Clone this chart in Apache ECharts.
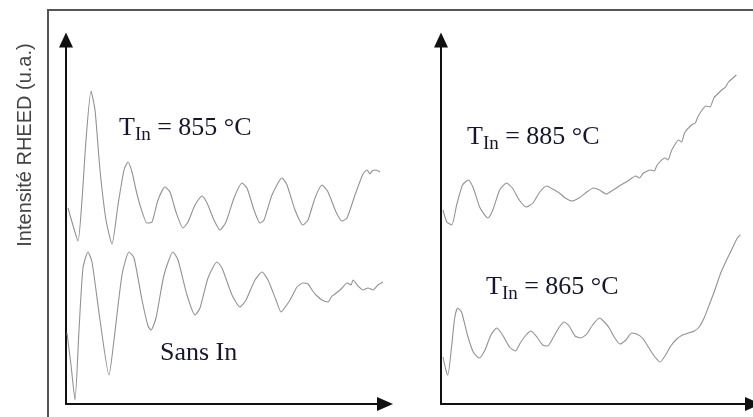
<!DOCTYPE html>
<html>
<head>
<meta charset="utf-8">
<script src="https://cdn.jsdelivr.net/npm/echarts@6/dist/echarts.min.js"></script>
<style>html,body{margin:0;padding:0;background:#fff;}#c{width:753px;height:417px;}</style>
</head>
<body>
<div id="c"></div>
<script>
// RHEED intensity traces, arbitrary units: [time (a.u.), intensity (a.u.)]
const yAxisTitle = 'Intensité RHEED (u.a.)';
const labels = {
  t855: '855 °C', t885: '885 °C', t865: '865 °C', sansIn: 'Sans In'
};
const xMax = 319;
const yMax = 364;

const trace855 = [[2,196],[6,182],[12,163],[16,204],[20,264],[25,313],[29,294],[34,234],[40,184],[46,160],[52,199],[58,234],[62,242],[66,232],[70,214],[74,199],[81,181],[86,182],[92,204],[99,217],[104,212],[110,192],[117,176],[122,182],[129,199],[136,208],[141,201],[148,184],[154,174],[160,182],[168,206],[176,221],[181,216],[188,194],[194,181],[198,184],[206,209],[216,226],[221,219],[229,194],[237,179],[242,184],[249,206],[256,219],[262,212],[270,192],[276,183],[281,186],[289,209],[297,230],[301,234],[304,230],[306,233],[310,234],[314,232]];
const traceSansIn = [[1,71],[5,39],[9,4],[13,74],[17,136],[22,152],[26,142],[34,84],[43,29],[48,64],[56,129],[63,152],[68,146],[76,104],[82,78],[85,74],[90,86],[98,129],[107,152],[112,144],[121,109],[129,89],[134,96],[142,126],[151,142],[156,136],[166,109],[174,97],[180,104],[189,124],[196,132],[202,124],[210,104],[215,92],[217,94],[224,104],[231,117],[237,121],[242,120],[246,114],[250,109],[256,104],[262,102],[266,108],[269,110],[274,114],[276,116],[281,121],[285,119],[287,124],[292,118],[297,114],[302,116],[307,114],[312,119],[317,122]];
const trace885 = [[2,194],[6,182],[11,179],[16,199],[22,219],[28,224],[33,216],[40,196],[48,186],[53,194],[60,214],[67,221],[73,216],[80,204],[87,197],[94,201],[101,212],[108,218],[114,215],[121,211],[127,206],[134,203],[141,206],[149,212],[156,216],[162,214],[169,210],[176,214],[184,219],[191,223],[199,228],[203,226],[207,231],[214,234],[218,233],[221,239],[229,246],[232,244],[236,254],[243,264],[246,262],[249,271],[256,279],[260,281],[263,288],[271,298],[275,297],[279,306],[287,314],[291,317],[294,322],[302,329]];
const trace865 = [[2,47],[5,34],[7,29],[11,59],[14,86],[17,96],[21,92],[27,69],[33,52],[39,46],[45,54],[51,69],[57,76],[63,69],[70,57],[76,53],[81,61],[87,69],[92,73],[98,67],[104,59],[109,58],[115,67],[121,77],[126,82],[131,78],[137,68],[143,66],[149,70],[155,79],[162,86],[167,82],[172,76],[177,67],[183,60],[189,64],[195,71],[200,70],[206,66],[212,57],[218,48],[224,42],[229,48],[235,58],[241,65],[247,69],[253,71],[259,73],[264,77],[269,86],[275,101],[280,114],[286,131],[292,144],[298,156],[303,166],[306,169]];

const chart = echarts.init(document.getElementById('c'), null, {renderer: 'canvas'});
const lineColor = '#929292';
const textColor = '#16162e';
const serif = '"Liberation Serif", "Times New Roman", serif';

function axisX(idx) {
  return {type: 'value', gridIndex: idx, min: 0, max: xMax,
    axisLine: {show: true, onZero: false, symbol: ['none', 'triangle'], symbolSize: [14, 16],
      lineStyle: {color: '#111', width: 2}},
    axisTick: {show: false}, axisLabel: {show: false}, splitLine: {show: false}};
}
function axisY(idx) {
  return {type: 'value', gridIndex: idx, min: 0, max: yMax,
    axisLine: {show: true, onZero: false, symbol: ['none', 'triangle'], symbolSize: [14, 15],
      lineStyle: {color: '#111', width: 2}},
    axisTick: {show: false}, axisLabel: {show: false}, splitLine: {show: false}};
}
function trace(data, idx) {
  return {type: 'line', xAxisIndex: idx, yAxisIndex: idx, data: data, showSymbol: false,
    smooth: 0.2, lineStyle: {color: lineColor, width: 1.1}, silent: true, animation: false};
}
function tLabel(value, x, y) {
  return {type: 'text', x: x, y: y, silent: true,
    style: {text: '{m|T}{s|In}{m| = ' + value + '}', verticalAlign: 'middle', align: 'left',
      rich: {m: {fontFamily: serif, fontSize: 26, fill: textColor, color: textColor},
             s: {fontFamily: serif, fontSize: 19, padding: [14, 0, 0, 0], fill: textColor, color: textColor}}}};
}

chart.setOption({
  backgroundColor: '#fff',
  animation: false,
  grid: [
    {left: 66, right: 368, top: 40, bottom: 13},
    {left: 441, right: -7, top: 40, bottom: 13}
  ],
  xAxis: [axisX(0), axisX(1)],
  yAxis: [axisY(0), axisY(1)],
  series: [trace(trace855, 0), trace(traceSansIn, 0), trace(trace885, 1), trace(trace865, 1)],
  graphic: [
    {type: 'rect', z: -1, silent: true, shape: {x: 48, y: 10, width: 730, height: 440},
     style: {fill: 'none', stroke: '#555', lineWidth: 2}},
    {type: 'text', x: 25, y: 145, rotation: Math.PI / 2, silent: true,
     style: {text: yAxisTitle, fontFamily: '"Liberation Sans", Arial, sans-serif', fontSize: 20,
       fill: '#444', align: 'center', verticalAlign: 'middle'}},
    tLabel(labels.t855, 119, 128),
    tLabel(labels.t885, 467, 137),
    tLabel(labels.t865, 486, 287),
    {type: 'text', x: 160, y: 353, silent: true,
     style: {text: labels.sansIn, fontFamily: serif, fontSize: 26, fill: textColor,
       align: 'left', verticalAlign: 'middle'}}
  ]
});
</script>
</body>
</html>
